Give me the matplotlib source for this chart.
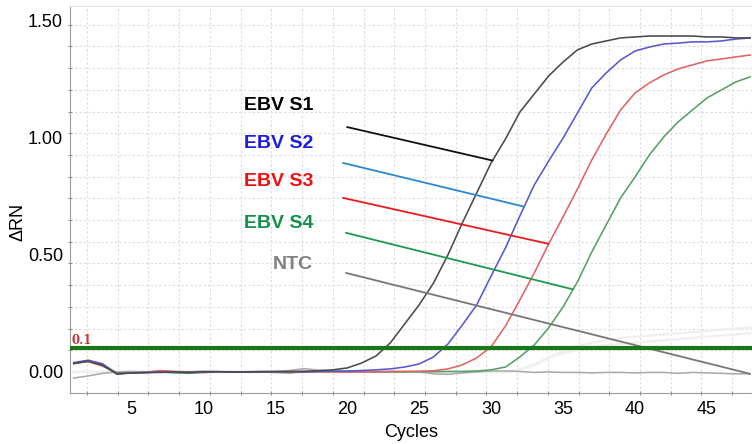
import numpy as np
import matplotlib
matplotlib.use('Agg')
import matplotlib.pyplot as plt

plt.rcParams['font.family'] = ['Liberation Sans', 'DejaVu Sans']

# amplification data, delta Rn per cycle (cycles 1..48)
cycles = np.arange(1, 49)

s1 = [0.036, 0.046, 0.028, -0.008, -0.004, -0.003, -0.001, 0.0, -0.002, 0.0,
      0.001, 0.0, 0.0, 0.001, 0.001, 0.002, 0.003, 0.005, 0.009,
      0.017, 0.038, 0.068, 0.124, 0.205, 0.286, 0.379, 0.499, 0.635, 0.763,
      0.891, 0.993, 1.108, 1.185, 1.262, 1.321, 1.373, 1.398, 1.411, 1.424,
      1.428, 1.432, 1.432, 1.432, 1.432, 1.428, 1.428, 1.424, 1.424]
s2 = [0.04, 0.05, 0.035, -0.01, -0.004, -0.002, -0.002, 0.0, -0.003, 0.0,
      0.001, 0.0, -0.001, 0.0, 0.002, 0.001, 0.0, 0.002, 0.003, 0.004, 0.006,
      0.009, 0.013, 0.021, 0.034, 0.064, 0.119, 0.2, 0.286, 0.409, 0.529,
      0.665, 0.797, 0.899, 0.997, 1.104, 1.211, 1.275, 1.33, 1.368, 1.385,
      1.398, 1.402, 1.407, 1.407, 1.411, 1.419, 1.424]
s3 = [0.038, 0.044, 0.025, -0.006, -0.004, -0.002, 0.006, 0.002, 0.0, -0.002,
      0.0, 0.001, -0.001, 0.0, 0.0, -0.002, 0.0, 0.001, 0.0, 0.0, 0.001, 0.0,
      0.001, 0.002, 0.003, 0.005,
      0.013, 0.03, 0.06, 0.107, 0.196, 0.307, 0.422, 0.546, 0.661, 0.78,
      0.904, 1.014, 1.117, 1.189, 1.232, 1.266, 1.292, 1.309, 1.326, 1.334,
      1.343, 1.351]
s4 = [0.035, 0.045, 0.032, -0.004, -0.004, -0.002, 0.0, -0.004, -0.006, -0.002,
      0.0, 0.0, 0.001, 0.0, -0.002, -0.004, 0.0, 0.002, 0.001, 0.0, 0.0, 0.001,
      0.0, 0.0, 0.001, 0.001, 0.002, 0.002, 0.004,
      0.009, 0.021, 0.064, 0.115, 0.188, 0.277, 0.384, 0.512, 0.627, 0.742,
      0.831, 0.925, 1.002, 1.066, 1.117, 1.168, 1.202, 1.236, 1.258]
ntc = [-0.026, -0.017, -0.006, 0.0, 0.002, 0.0, 0.003, 0.001, 0.0, 0.004,
       0.002, 0.0, 0.001, 0.003, 0.002, 0.006, 0.014, 0.008, 0.004, 0.003,
       0.004, 0.002, 0.003, 0.002, 0.0, -0.008, -0.01, -0.004, 0.0, 0.004,
       0.004, 0.002, -0.002, 0.0, -0.002, -0.002, -0.004, -0.002, -0.002,
       -0.004, -0.002, -0.002, -0.006, -0.002, -0.004, -0.006, -0.008, -0.008]
# two very faint background wells
faint_a = [0.0] * 30 + [0.0, 0.01, 0.03, 0.06, 0.08, 0.095, 0.105, 0.115, 0.12,
                        0.125, 0.13, 0.135, 0.14, 0.145, 0.15, 0.155, 0.16, 0.165]
faint_b = [0.0] * 30 + [0.0, 0.01, 0.03, 0.06, 0.09, 0.11, 0.125, 0.135, 0.145,
                        0.15, 0.155, 0.16, 0.165, 0.17, 0.175, 0.18, 0.185, 0.19]

threshold = 0.1
labels = ['EBV S1', 'EBV S2', 'EBV S3', 'EBV S4', 'NTC']
# cycle where each leader line meets its curve
leader_cycles = [30.1, 32.3, 34.0, 35.7, 48.0]

curve_colors = ['#4a4a4a', '#5858d0', '#e06464', '#55a065', '#aaaaaa']
label_colors = ['#000000', '#1c1ce0', '#ee1111', '#14904a', '#808080']
leader_colors = ['#111111', '#2a88d0', '#e81c1c', '#1c9950', '#777777']

fig = plt.figure(figsize=(7.52, 4.44), dpi=100)
ax = fig.add_axes([0.0931, 0.115, 0.9069, 0.8715])

for f in (faint_a, faint_b):
    ax.plot(cycles, f, color='#f0f0f0', lw=1.8, zorder=1)

series = [s1, s2, s3, s4, ntc]
draw_order = [4, 3, 2, 1, 0]
for i in draw_order:
    ax.plot(cycles, series[i], color=curve_colors[i], lw=1.15, zorder=2)

ax.axhline(threshold, color='#187818', lw=3, zorder=4)
ax.text(0.85, threshold + 0.006, '0.1', color='#c83232', fontsize=8.5,
        fontweight='bold', family='DejaVu Serif', va='bottom', ha='left', zorder=5)

# labels and leader lines
text_x = 17.63
text_y = [1.134, 0.972, 0.81, 0.631, 0.456]
start_pts = [(19.99, 1.044), (19.71, 0.891), (19.71, 0.742), (19.92, 0.593), (19.92, 0.422)]
for i in range(5):
    ax.text(text_x, text_y[i], labels[i], color=label_colors[i], fontsize=14,
            fontweight='bold', ha='right', va='center', zorder=6)
    end_y = np.interp(leader_cycles[i], cycles, series[i])
    ax.annotate('', xy=(leader_cycles[i], end_y), xytext=start_pts[i],
                arrowprops=dict(arrowstyle='-', color=leader_colors[i], lw=1.3,
                                shrinkA=0, shrinkB=0), zorder=3)

ax.set_xlim(0.74, 48.13)
ax.set_ylim(-0.0895, 1.56)

ax.set_xticks([5, 10, 15, 20, 25, 30, 35, 40, 45])
ax.set_xticks(np.arange(1.92, 48, 2.135), minor=True)
ax.set_yticks([0.0, 0.5, 1.0, 1.5])
ax.set_yticklabels(['0.00', '0.50', '1.00', '1.50'])
ax.set_yticks(np.arange(0.0, 1.55, 0.0925), minor=True)

ax.tick_params(axis='x', which='major', length=0, pad=6, labelsize=13)
ax.tick_params(axis='y', which='major', length=0, pad=5, labelsize=13)
ax.tick_params(which='minor', length=3, direction='inout', color='#777777')
ax.grid(which='minor', color='#dcdcdc', linestyle=(0, (2, 2)), lw=0.8)
ax.set_axisbelow(True)

for side in ['left', 'bottom']:
    ax.spines[side].set_color('#999999')
for side in ['top', 'right']:
    ax.spines[side].set_color('#e4e4e4')

ax.set_xlabel('Cycles', fontsize=13, labelpad=4)
ax.set_ylabel('\u0394RN', fontsize=13)
ax.yaxis.set_label_coords(-0.064, 0.442)

fig.savefig('out.png', dpi=100)
